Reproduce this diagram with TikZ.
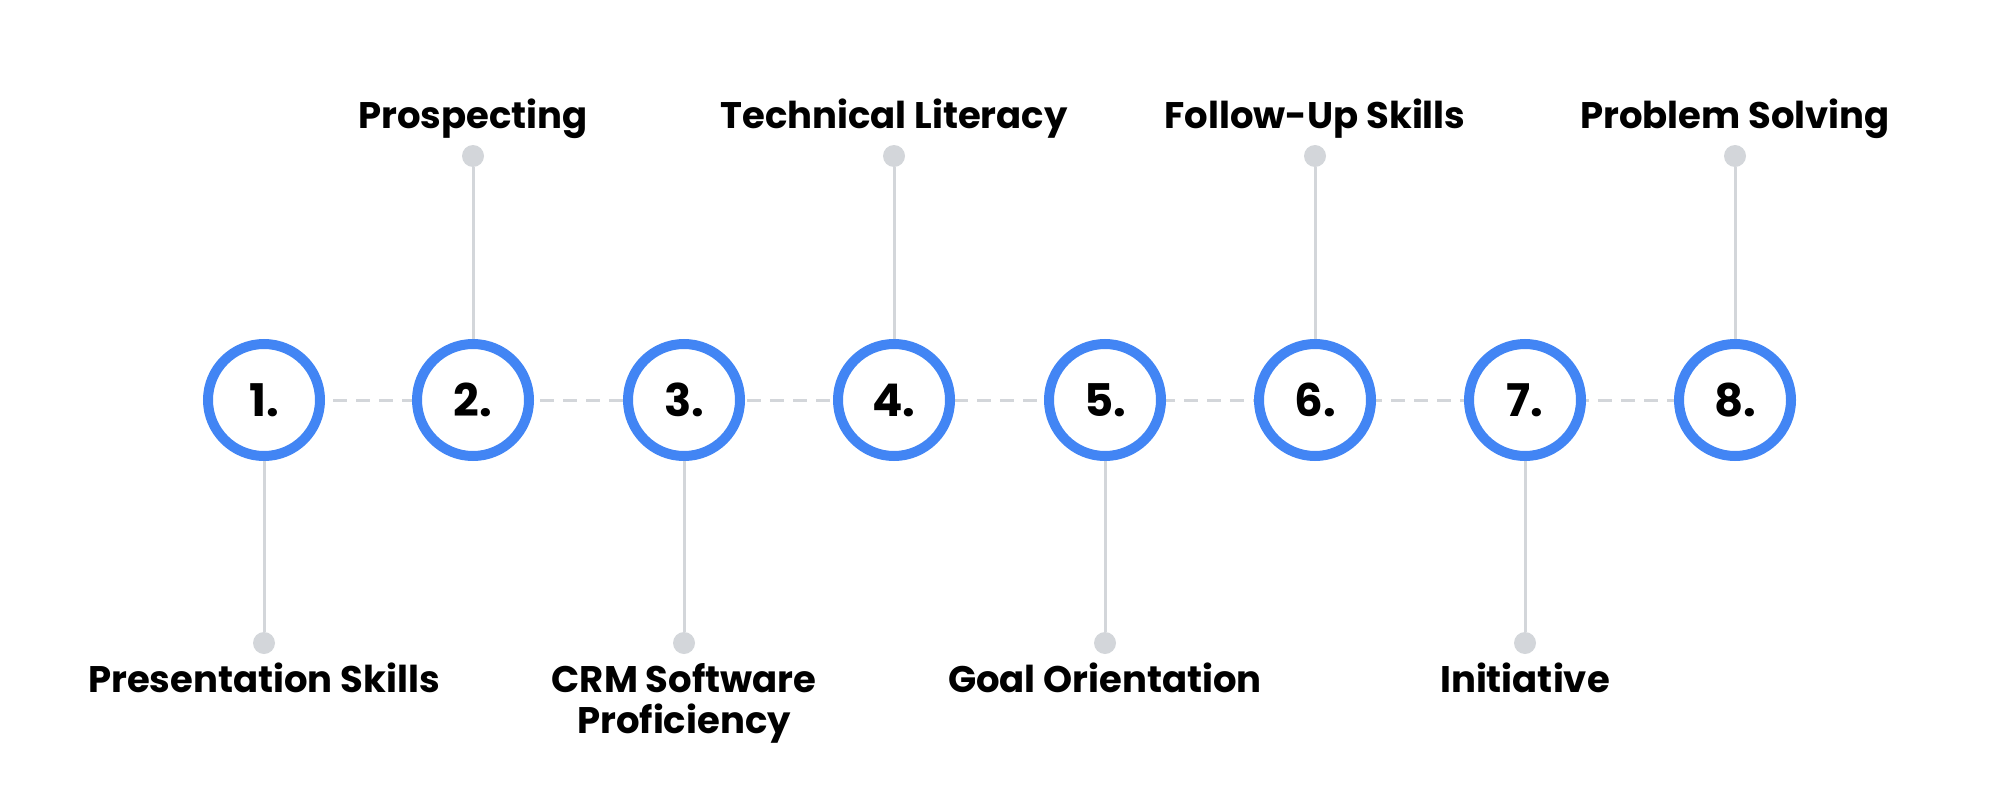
\documentclass[tikz,border=0pt]{standalone}
\usepackage{fontspec}
\setmainfont{Poppins}
\definecolor{ringblue}{HTML}{4285F4}
\definecolor{stemgray}{HTML}{D3D6DA}
\begin{document}
\begin{tikzpicture}[x=1pt,y=-1pt,
  ring/.style={circle,draw=ringblue,line width=10pt,fill=white,minimum size=112pt,inner sep=0pt,font=\fontsize{45}{48}\selectfont\bfseries},
  stem/.style={draw=stemgray,line width=3pt},
  dot/.style={circle,fill=stemgray,minimum size=22pt,inner sep=0pt},
  lab/.style={font=\fontsize{37}{41}\selectfont\bfseries,align=center,inner sep=0pt},
  link/.style={draw=stemgray,line width=3pt,dash pattern=on 14pt off 9pt}]
\useasboundingbox (0,0) rectangle (2000,800);
\foreach \i/\x in {1/264,2/473,3/684,4/894,5/1105,6/1315,7/1525,8/1735}{
  \coordinate (c\i) at (\x,400);
}
\draw[link] (c1) -- (c8);
\foreach \i in {1,...,8}{ \node[ring] (r\i) at (c\i) {\i.}; }
% top
\foreach \i/\t in {2/Prospecting,4/Technical Literacy,6/Follow-Up Skills,8/Problem Solving}{
  \path (c\i) ++(0,-244) node[dot] (d\i) {};
  \draw[stem] (d\i) -- (r\i);
  \node[lab,anchor=base] (t\i) at ([yshift=28pt]d\i.center) {\t};
}
% bottom
\foreach \i/\t in {1/Presentation Skills,3/CRM Software\\Proficiency,5/Goal Orientation,7/Initiative}{
  \path (c\i) ++(0,243) node[dot] (d\i) {};
  \draw[stem] (r\i) -- (d\i);
  \node[lab,anchor=north] (t\i) at ([yshift=-20pt]d\i.center) {\t};
}
\end{tikzpicture}
\end{document}
